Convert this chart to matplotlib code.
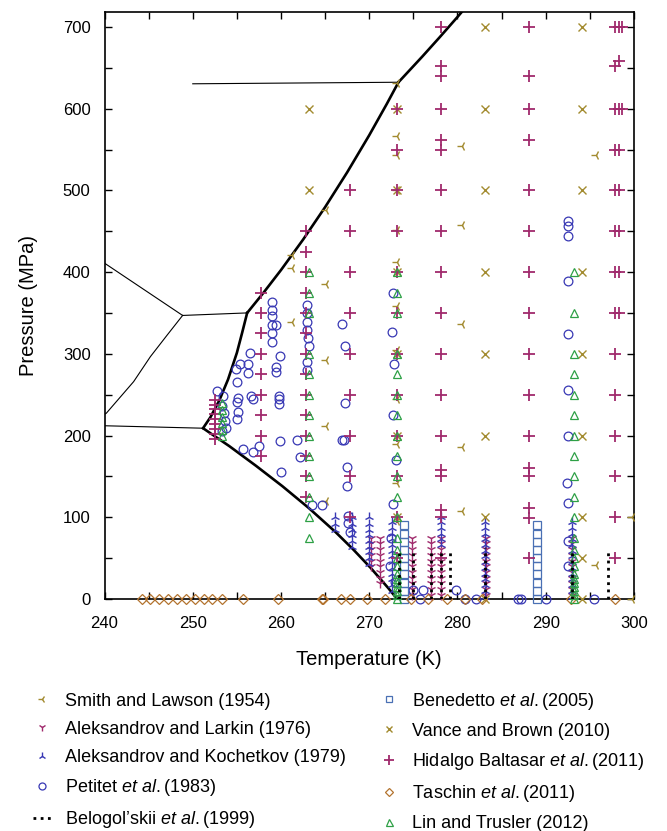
import matplotlib
matplotlib.use("Agg")
import matplotlib.pyplot as plt
import numpy as np

plt.rcParams['font.family'] = ['Liberation Sans', 'DejaVu Sans']
plt.rcParams['mathtext.fontset'] = 'custom'
plt.rcParams['mathtext.it'] = 'Liberation Sans:italic'
plt.rcParams['mathtext.rm'] = 'Liberation Sans'

# ---------------- phase boundaries (T in K, P in MPa) ----------------
melt_Ih_T = [273.16, 272.15, 270.15, 268.15, 266.15, 263.15, 260.15, 257.15, 254.15, 251.165]
melt_Ih_P = [0.0, 13.4, 38.2, 61.0, 82.2, 111.3, 138.1, 163.1, 187.0, 209.0]
melt_III_T = [251.165, 252.0, 253.0, 254.0, 255.0, 255.6, 256.164]
melt_III_P = [209.0, 222.4, 242.8, 268.7, 301.3, 326.0, 350.1]
melt_V_T = [256.164, 258.0, 260.0, 262.5, 265.0, 267.5, 270.0, 272.0, 273.31]
melt_V_P = [350.1, 374.6, 402.6, 439.8, 479.6, 522.2, 567.6, 606.1, 632.4]
melt_VI_T = [273.31, 276.0, 278.0, 280.0, 281.0]
melt_VI_P = [632.4, 663.7, 687.7, 712.3, 724.9]

b_Ih_III_T = [240.0, 251.165]
b_Ih_III_P = [212.0, 209.0]
b_II_III_T = [240.0, 240.2, 243.3, 245.2, 247.1, 248.85]
b_II_III_P = [226.0, 227.3, 266.0, 296.6, 323.0, 347.0]
b_II_V_T = [240.0, 248.85]
b_II_V_P = [411.0, 347.0]
b_III_V_T = [248.85, 256.164]
b_III_V_P = [347.0, 350.1]
b_V_VI_T = [250.0, 273.31]
b_V_VI_P = [630.5, 632.4]

# ---------------- data sets ----------------
smith_T = [261.2, 261.2, 261.2, 265.1, 265.1, 265.1, 265.1, 265.1,
           273.1, 273.1, 273.1, 273.1, 273.1, 273.1, 273.1, 273.1, 273.1, 273.1, 273.1, 273.1,
           280.5, 280.5, 280.5, 280.5, 280.5, 295.7, 295.7, 299.8, 299.8]
smith_P = [421, 405, 339, 476, 385, 293, 212, 120,
           631, 567, 543, 500, 452, 413, 358, 305, 245, 190, 142, 95,
           554, 458, 337, 186, 108, 543, 42, 100, 0.4]

larkin_isotherms = [270.2, 271.2, 274.9, 277.0, 278.1, 283.2, 293.0]
larkin_pressures = [
    [40, 47, 54, 61, 68, 75],
    [20, 26, 33, 40, 47, 54, 61, 68, 75],
    [5, 12, 19, 26, 33, 40, 47, 54, 61, 68, 75],
    [5, 12, 19, 26, 33, 40, 47, 54, 61, 68, 75],
    [5, 12, 19, 26, 33, 40, 47, 54, 61, 68, 75],
    [5, 12, 19, 26, 33, 40, 47, 54, 61, 68, 75],
    [5, 12, 19, 26, 33, 40, 47, 54, 61, 68, 75],
]

kochetkov_isotherms = [266.1, 268.0, 270.0, 272.6, 278.1, 283.1, 293.0]
kochetkov_pressures = [
    [85, 92, 100],
    [64, 71, 78, 85, 92, 100],
    [43, 50, 57, 64, 71, 78, 85, 92, 100],
    [10, 17, 24, 31, 38, 45, 52, 59, 66, 73, 80, 87, 94],
    [66, 73, 80, 87, 94, 100],
    [3, 10, 17, 24, 31, 38, 45, 52, 59, 66, 73, 80, 87, 94],
    [3, 10, 17, 24, 31, 38, 45, 52, 59, 66, 73, 80, 87, 94],
]

petitet_T = [252.7, 253.4, 253.3, 253.5, 253.8, 253.3, 253.6,
             254.9, 255.3, 255.0, 255.0, 255.1, 255.0, 255.1, 256.3, 256.3, 256.5, 256.6, 256.8,
             255.7, 256.8, 257.5,
             259.0, 259.0, 259.0, 259.0, 259.4, 259.0, 259.0, 259.9, 259.4, 259.4, 259.8, 259.8, 259.8,
             259.9, 260.0, 261.8, 262.2,
             263.0, 263.0, 263.0, 263.0, 263.1, 263.2, 263.0, 263.0, 264.6, 263.5,
             266.9, 267.2, 267.2, 266.9, 267.1, 267.5, 267.5, 267.6, 267.6, 267.8,
             272.7, 272.6, 272.8, 272.7, 273.0, 272.7, 272.5, 272.4, 272.9,
             275.7, 276.1, 275.0, 279.8, 280.8, 282.1, 286.9, 287.2, 290.0, 295.5,
             292.5, 292.5, 292.5, 292.5, 292.5, 292.5, 292.5, 292.4, 292.5, 292.5, 292.5]
petitet_P = [254, 249, 236, 228, 209, 205, 218,
             282, 288, 266, 241, 229, 220, 246, 288, 276, 301, 248, 245,
             184, 180, 187,
             364, 354, 346, 335, 335, 325, 315, 297, 284, 278, 249, 245, 239,
             193, 155, 195, 174,
             360, 350, 339, 329, 319, 309, 290, 280, 115, 115,
             337, 309, 240, 195, 195, 162, 138, 101, 93, 82,
             375, 327, 288, 225, 170, 116, 75, 40, 21,
             0.1, 11, 11, 11, 0.1, 0.1, 0.1, 0.1, 0.1, 0.1,
             462, 456, 444, 389, 324, 256, 199, 142, 118, 71, 40]

belogolskii_T = [273.4, 275.0, 277.0, 278.1, 279.1, 283.1, 293.0, 297.0]
belogolskii_Pmax = [60, 60, 60, 60, 60, 62, 60, 60]

benedetto_isotherms = [273.9, 289.0]
benedetto_P = [0.1, 10, 20, 30, 40, 50, 60, 70, 80, 90]

vance_isotherms = [263.15, 273.15, 283.1, 294.1]
vance_pressures = [
    [500, 600],
    [100, 200, 300, 400, 500, 600],
    [0.1, 100, 200, 300, 400, 500, 600, 700],
    [0.1, 50, 100, 200, 300, 400, 500, 600, 700],
]

hidalgo_isotherms = [252.5, 257.7, 262.8, 267.8, 273.1, 278.1, 288.1, 297.8, 298.3, 298.6]
hidalgo_pressures = [
    [196, 202, 208, 214, 220, 226, 232, 238, 244],
    [175, 200, 225, 250, 275, 300, 325, 350, 375],
    [125, 150, 175, 200, 225, 250, 275, 300, 325, 350, 375, 400, 425, 450],
    [100, 150, 200, 250, 300, 350, 400, 450, 500],
    [50, 100, 150, 200, 250, 300, 350, 400, 450, 500, 550, 600],
    [50, 100, 109, 150, 158, 200, 250, 300, 350, 400, 450, 500, 550, 562, 600, 640, 652, 700],
    [50, 99, 111, 150, 160, 200, 250, 300, 350, 400, 450, 500, 562, 600, 640, 700],
    [50, 100, 150, 200, 250, 300, 350, 400, 450, 500, 550, 600, 652, 700],
    [350, 400, 450, 500, 550, 600, 658, 700],
    [600, 700],
]

taschin_T = [244.2, 245.1, 246.2, 247.2, 248.2, 249.2, 250.2, 251.3, 252.2, 253.3, 255.7, 259.7,
             264.6, 264.8, 266.8, 267.8, 269.7, 271.8, 274.7, 276.7, 278.8, 280.9, 282.8, 292.9, 297.8]
taschin_P = [0.1] * len(taschin_T)

lin_isotherms = [253.3, 263.2, 273.2, 293.2]
lin_pressures = [
    [199, 207, 215, 223, 231, 240],
    [75, 100, 125, 150, 175, 200, 225, 250, 275, 300, 350, 375, 400],
    [0.1, 5, 10, 15, 20, 25, 30, 40, 50, 60, 75, 100, 125, 150, 175, 200, 225, 250, 275, 300, 350, 375, 400],
    [0.1, 5, 10, 15, 20, 25, 30, 40, 50, 60, 75, 100, 125, 150, 175, 200, 225, 250, 275, 300, 350, 400],
]

labels = ["Smith and Lawson (1954)",
          "Aleksandrov and Larkin (1976)",
          "Aleksandrov and Kochetkov (1979)",
          r"Petitet $et\ al.$(1983)",
          r"Belogol’skii $et\ al.$(1999)",
          r"Benedetto $et\ al.$(2005)",
          "Vance and Brown (2010)",
          r"Hidalgo Baltasar $et\ al.$(2011)",
          r"Taschin $et\ al.$(2011)",
          "Lin and Trusler (2012)"]

OLIVE = '#a38b30'
MAGENTA = '#a02a6c'
BLUE = '#3838b4'
STEEL = '#4a70b4'
GREEN = '#2ea046'
BROWN = '#b3732e'


def expand(isotherms, pressures):
    T, P = [], []
    for t, ps in zip(isotherms, pressures):
        T += [t] * len(ps)
        P += list(ps)
    return T, P


fig = plt.figure(figsize=(6.67, 8.31), dpi=100)
ax = fig.add_axes([0.1567, 0.2792, 0.7938, 0.7064])

# phase lines
ax.plot(melt_Ih_T, melt_Ih_P, color='black', lw=1.9, zorder=5, solid_capstyle='round')
ax.plot(melt_III_T, melt_III_P, color='black', lw=1.9, zorder=5)
ax.plot(melt_V_T, melt_V_P, color='black', lw=1.9, zorder=5)
ax.plot(melt_VI_T, melt_VI_P, color='black', lw=1.9, zorder=5)
for bt, bp in [(b_Ih_III_T, b_Ih_III_P), (b_II_III_T, b_II_III_P), (b_II_V_T, b_II_V_P),
               (b_III_V_T, b_III_V_P), (b_V_VI_T, b_V_VI_P)]:
    ax.plot(bt, bp, color='black', lw=0.8, zorder=4)

common = dict(linestyle='none', clip_on=False, zorder=6)

h = []
h.append(ax.plot(smith_T, smith_P, marker='3', ms=7, mew=1.0, color=OLIVE, **common)[0])
T, P = expand(larkin_isotherms, larkin_pressures)
h.append(ax.plot(T, P, marker='1', ms=7, mew=1.0, color=MAGENTA, **common)[0])
T, P = expand(kochetkov_isotherms, kochetkov_pressures)
h.append(ax.plot(T, P, marker='2', ms=7, mew=1.0, color=BLUE, **common)[0])
h.append(ax.plot(petitet_T, petitet_P, marker='o', ms=6.3, mew=0.9, mfc='none', mec=BLUE, **common)[0])
h.append(ax.vlines(belogolskii_T, [0] * len(belogolskii_T), belogolskii_Pmax, colors='black',
                   linestyles=(0, (1.0, 1.6)), lw=2.0, zorder=7))
T, P = expand(benedetto_isotherms, [benedetto_P] * len(benedetto_isotherms))
h.append(ax.plot(T, P, marker='s', ms=5.5, mew=0.9, mfc='none', mec=STEEL, **common)[0])
T, P = expand(vance_isotherms, vance_pressures)
h.append(ax.plot(T, P, marker='x', ms=5.5, mew=1.0, color=OLIVE, **common)[0])
T, P = expand(hidalgo_isotherms, hidalgo_pressures)
h.append(ax.plot(T, P, marker='+', ms=8.5, mew=1.3, color=MAGENTA, **common)[0])
h.append(ax.plot(taschin_T, taschin_P, marker='D', ms=5.2, mew=0.9, mfc='none', mec=BROWN, **common)[0])
T, P = expand(lin_isotherms, lin_pressures)
h.append(ax.plot(T, P, marker='^', ms=6.3, mew=0.9, mfc='none', mec=GREEN, **common)[0])

ax.set_xlim(240, 300)
ax.set_ylim(0, 718.4)
ax.set_xticks([240, 250, 260, 270, 280, 290, 300])
ax.set_xticks([245, 255, 265, 275, 285, 295], minor=True)
ax.set_yticks([0, 100, 200, 300, 400, 500, 600, 700])
ax.set_yticks([50, 150, 250, 350, 450, 550, 650], minor=True)
ax.tick_params(which='both', direction='in', top=True, right=True, length=5, width=1.0)
ax.tick_params(axis='x', which='major', labelsize=12, pad=12)
ax.tick_params(axis='y', which='major', labelsize=12, pad=10)
for s in ax.spines.values():
    s.set_linewidth(1.2)

ax.set_xlabel('Temperature (K)', fontsize=14.5, labelpad=14)
ax.set_ylabel('Pressure (MPa)', fontsize=14.5, labelpad=18)

fig.legend(h, labels, loc='upper left', bbox_to_anchor=(0.05, 0.169), ncol=2, frameon=False,
           fontsize=13, handlelength=1.0, handletextpad=0.75, labelspacing=0.62,
           columnspacing=1.9, markerscale=0.8, borderpad=0, borderaxespad=0)

fig.savefig('out.png', dpi=100)
